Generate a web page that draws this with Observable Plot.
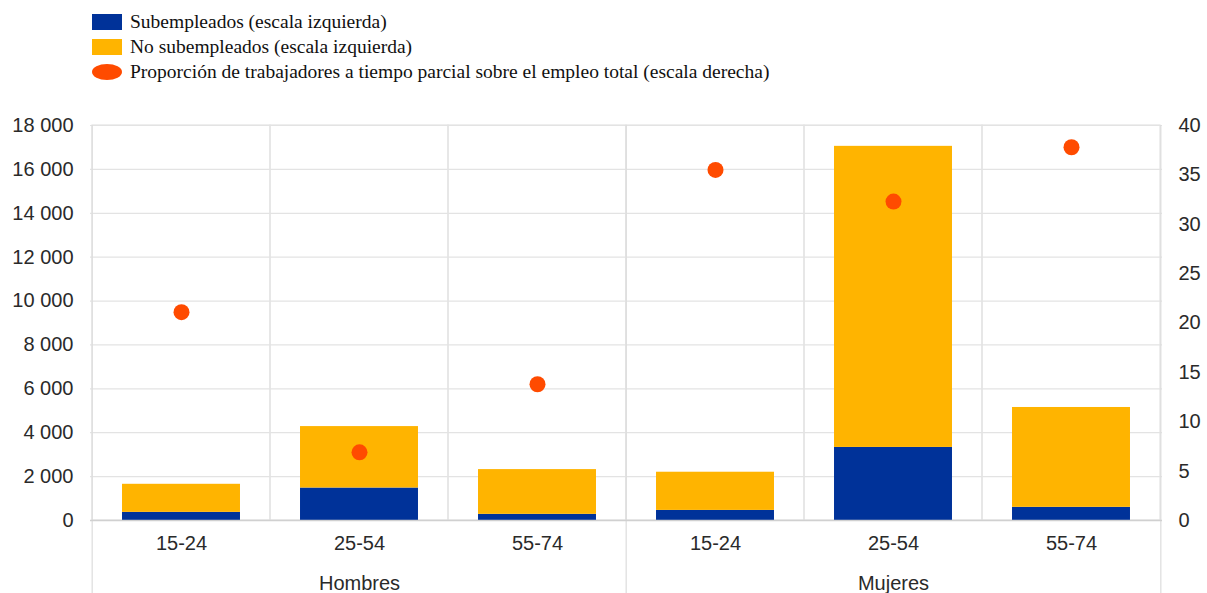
<!DOCTYPE html>
<html>
<head>
<meta charset="utf-8">
<script src="https://cdn.jsdelivr.net/npm/d3@7"></script>
<script src="https://cdn.jsdelivr.net/npm/@observablehq/plot@0.6"></script>
<style>
  html, body { margin: 0; padding: 0; background: #fff; }
  #wrap { position: relative; width: 1207px; height: 593px; overflow: hidden; }
  #legend { position: relative; height: 95px; font-family: "Liberation Serif", "Times New Roman", serif; font-size: 19.5px; color: #111; }
  .item { position: absolute; left: 92px; height: 20px; display: flex; align-items: center; }
  .sw { width: 30px; height: 16px; margin-right: 8px; }
  .sw.dot { border-radius: 50%; }
  #chart svg { display: block; }
</style>
</head>
<body>
<div id="wrap">
  <div id="legend"></div>
  <div id="chart"></div>
</div>
<script>
// ---- data ----
const groups = ["Hombres", "Mujeres"];
const ages = ["15-24", "25-54", "55-74"];
const seriesNames = [
  "Subempleados (escala izquierda)",
  "No subempleados (escala izquierda)",
  "Proporción de trabajadores a tiempo parcial sobre el empleo total (escala derecha)"
];
const subempleados = [370, 1480, 280, 460, 3330, 600];
const noSubempleados = [1280, 2800, 2040, 1740, 13720, 4550];
const parcial = [21.1, 6.9, 13.8, 35.5, 32.3, 37.8];
const leftTicks = [0, 2000, 4000, 6000, 8000, 10000, 12000, 14000, 16000, 18000];
const rightTicks = [0, 5, 10, 15, 20, 25, 30, 35, 40];
const colors = ["#003299", "#ffb400", "#ff4b00"];

// ---- derived tables ----
const keys = groups.flatMap(g => ages.map(a => g + "|" + a));
const bars = [];
keys.forEach((k, i) => {
  bars.push({key: k, series: seriesNames[0], value: subempleados[i]});
  bars.push({key: k, series: seriesNames[1], value: noSubempleados[i]});
});
const dots = keys.map((k, i) => ({key: k, value: parcial[i]}));
const leftMax = 18000, rightMax = 40, ratio = leftMax / rightMax;

// ---- legend ----
const legend = document.getElementById("legend");
seriesNames.forEach((name, i) => {
  const it = document.createElement("div");
  it.className = "item";
  it.style.top = (12 + i * 25) + "px";
  const sw = document.createElement("div");
  sw.className = "sw" + (i === 2 ? " dot" : "");
  sw.style.background = colors[i];
  it.appendChild(sw);
  const t = document.createElement("span");
  t.textContent = name;
  it.appendChild(t);
  legend.appendChild(it);
});

// ---- chart ----
const width = 1207, height = 498;
const marginLeft = 90, marginRight = 45, marginTop = 30, marginBottom = 73;
const bw = (width - marginLeft - marginRight) / keys.length;
const inset = bw * 0.168;
const fmt = d => d3.format(",")(d).replace(/,/g, " ");

const groupEdges = [
  {key: keys[0], dx: -bw / 2},
  {key: keys[ages.length], dx: -bw / 2},
  {key: keys[keys.length - 1], dx: bw / 2}
];
const groupLabels = groups.map(g => ({key: g + "|" + ages[1], label: g}));

const chart = Plot.plot({
  width, height, marginLeft, marginRight, marginTop, marginBottom,
  style: {fontFamily: "'Liberation Sans', Arial, sans-serif", fontSize: "20px", color: "#2a2a2a", background: "#fff"},
  x: {domain: keys, padding: 0, axis: null, label: null},
  y: {domain: [0, leftMax], nice: false, axis: null, label: null},
  color: {domain: seriesNames, range: colors},
  marks: [
    Plot.ruleY(leftTicks.slice(1), {stroke: "#e3e3e3", strokeWidth: 1.2}),
    Plot.barY(keys, {x: d => d, y1: 0, y2: leftMax, fill: "none", stroke: "#e3e3e3", strokeWidth: 1.2}),
    ...groupEdges.map(e => Plot.ruleX([e.key], {x: d => d, dx: e.dx, stroke: "#dcdcdc", strokeWidth: 1.2, insetBottom: -marginBottom})),
    Plot.barY(bars, {x: "key", y: "value", fill: "series", insetLeft: inset, insetRight: inset}),
    Plot.ruleY([0], {stroke: "#d0d0d0", strokeWidth: 1.5}),
    Plot.dot(dots, {x: "key", y: d => d.value * ratio, r: 8, fill: colors[2], stroke: "none"}),
    Plot.axisY({anchor: "left", label: null, ticks: leftTicks, tickSize: 0, tickPadding: 17, tickFormat: fmt}),
    Plot.axisY({anchor: "right", label: null, ticks: rightTicks.map(t => t * ratio), tickSize: 0, tickPadding: 16, tickFormat: d => Math.round(d / ratio)}),
    Plot.axisX({anchor: "bottom", label: null, tickSize: 0, tickPadding: 15, tickFormat: k => k.split("|")[1]}),
    Plot.text(groupLabels, {x: "key", y: 0, dy: 63, text: "label", fill: "#2a2a2a"})
  ]
});
document.getElementById("chart").appendChild(chart);
</script>
</body>
</html>
